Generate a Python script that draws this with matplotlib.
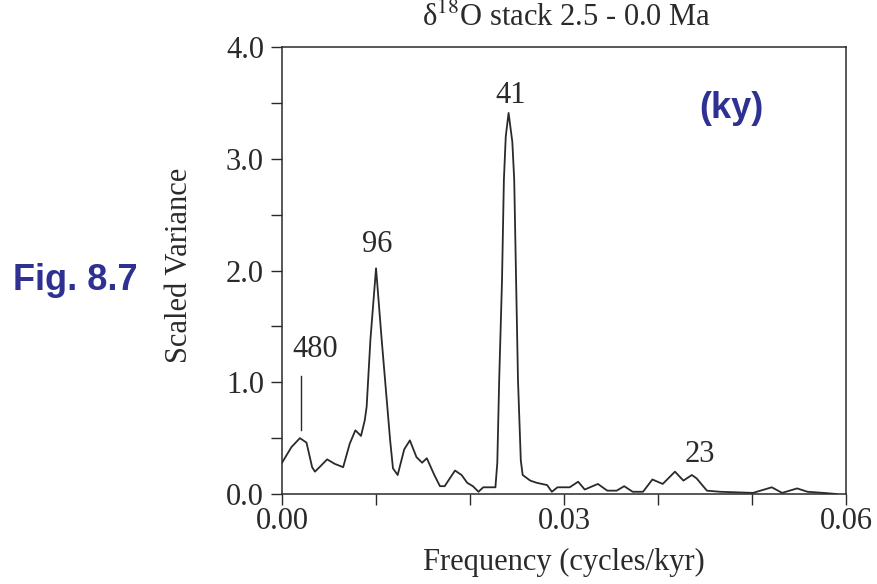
import matplotlib
matplotlib.use('Agg')
import matplotlib.pyplot as plt

# Spectrum of the d18O stack
freq = [0.0000, 0.0010, 0.0019, 0.0026, 0.0032, 0.0035, 0.0041, 0.0048, 0.0056, 0.0065,
        0.0072, 0.0078, 0.0084, 0.0088, 0.0090, 0.0094, 0.0100, 0.0106, 0.0112, 0.0115,
        0.0118, 0.0123, 0.0130, 0.0136, 0.0143, 0.0149, 0.0154, 0.0162, 0.0168, 0.0173,
        0.0184, 0.0191, 0.0197, 0.0203, 0.0209, 0.0214, 0.0221, 0.0227, 0.0229, 0.0231,
        0.0234, 0.0236, 0.0238, 0.0241, 0.0245, 0.0247, 0.0249, 0.0251, 0.0254, 0.0256,
        0.0264, 0.0271, 0.0282, 0.0287, 0.0293, 0.0306, 0.0315, 0.0322, 0.0336, 0.0346,
        0.0356, 0.0364, 0.0373, 0.0384, 0.0394, 0.0405, 0.0418, 0.0427, 0.0436, 0.0441,
        0.0452, 0.0466, 0.0501, 0.0521, 0.0532, 0.0548, 0.0559, 0.0576, 0.0590]
variance = [0.28, 0.42, 0.50, 0.46, 0.24, 0.20, 0.25, 0.31, 0.27, 0.24,
            0.45, 0.57, 0.52, 0.66, 0.78, 1.38, 2.02, 1.38, 0.78, 0.48,
            0.23, 0.17, 0.40, 0.48, 0.33, 0.28, 0.32, 0.17, 0.07, 0.07,
            0.21, 0.17, 0.10, 0.07, 0.02, 0.06, 0.06, 0.06, 0.28, 1.02,
            1.91, 2.81, 3.20, 3.41, 3.15, 2.81, 1.91, 1.02, 0.30, 0.17,
            0.12, 0.10, 0.08, 0.02, 0.06, 0.06, 0.11, 0.04, 0.09, 0.03,
            0.03, 0.07, 0.02, 0.02, 0.13, 0.09, 0.20, 0.12, 0.17, 0.14,
            0.03, 0.02, 0.01, 0.06, 0.01, 0.05, 0.02, 0.01, 0.00]

# period labels (ky) and where they sit
peak_labels = ['480', '96', '41', '23']
label_freq = [0.0035, 0.0101, 0.0243, 0.0445]
label_var = [1.29, 2.23, 3.57, 0.35]

# the short bar under "480"
bar_freq = 0.0020
bar_var = [0.57, 1.06]

plt.rcParams['font.family'] = ['Liberation Serif', 'DejaVu Serif']
plt.rcParams['mathtext.fontset'] = 'stix'

ink = '#2a2a2a'
blue = '#2e3192'
fs = 22

fig = plt.figure(figsize=(8.77, 5.84), dpi=100)
ax = fig.add_axes([0.3216, 0.1541, 0.6431, 0.7654])

ax.plot(freq, variance, color=ink, lw=1.3)
ax.plot([bar_freq, bar_freq], bar_var, color=ink, lw=1.0)

for lab, fx, vy in zip(peak_labels, label_freq, label_var):
    ax.text(fx, vy, lab, ha='center', va='center', fontsize=fs, color=ink)

ax.set_xlim(0, 0.06)
ax.set_ylim(0, 4.0)
ax.set_xticks([0.0, 0.01, 0.02, 0.03, 0.04, 0.05, 0.06])
ax.set_xticklabels(['0.00', '', '', '0.03', '', '', '0.06'])
ax.set_yticks([0, 0.5, 1, 1.5, 2, 2.5, 3, 3.5, 4])
ax.set_yticklabels(['0.0', '', '1.0', '', '2.0', '', '3.0', '', '4.0'])
ax.tick_params(axis='both', direction='out', length=8, width=1.0, colors=ink,
               labelsize=fs, labelcolor=ink)
ax.tick_params(axis='y', pad=5)
ax.tick_params(axis='x', pad=1)
for sp in ax.spines.values():
    sp.set_color(ink)
    sp.set_linewidth(1.1)

ax.set_xlabel('Frequency (cycles/kyr)', fontsize=fs, color=ink, va='center')
ax.set_ylabel('Scaled Variance', fontsize=fs, color=ink, va='center')
ax.xaxis.set_label_coords(0.5, -0.154)
ax.yaxis.set_label_coords(-0.181, 0.512)

fig.text(0.6465, 0.969, r'δ$^{18}$O stack 2.5 - 0.0 Ma', ha='center', va='center',
         fontsize=fs, color=ink)

fig.text(0.0855, 0.5205, 'Fig. 8.7', ha='center', va='center', fontsize=26,
         fontweight='bold', color=blue, family=['Liberation Sans', 'DejaVu Sans'])
fig.text(0.8335, 0.815, '(ky)', ha='center', va='center', fontsize=26,
         fontweight='bold', color=blue, family=['Liberation Sans', 'DejaVu Sans'])

fig.savefig('out.png', dpi=100, facecolor='white')
